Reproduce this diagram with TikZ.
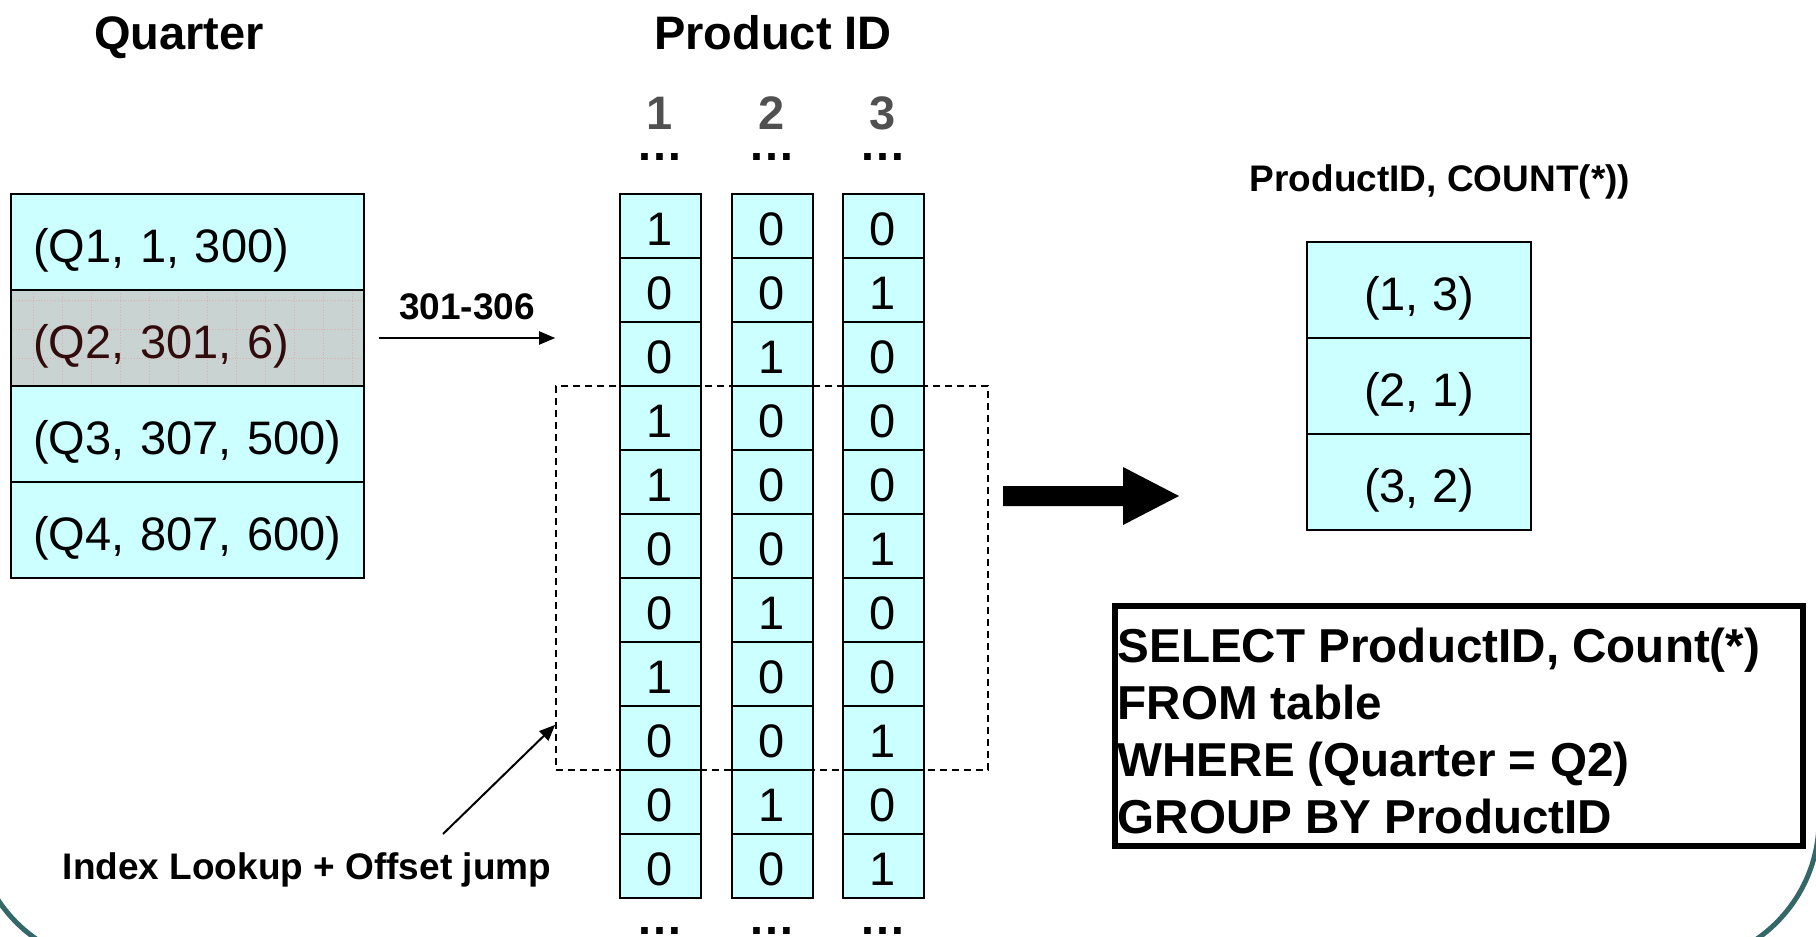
\documentclass[tikz,border=0pt]{standalone}
\usepackage{fontspec}
\setmainfont{Liberation Sans}
\usetikzlibrary{arrows.meta}
\definecolor{cellcyan}{RGB}{204,255,255}
\definecolor{hitgray}{RGB}{201,211,209}
\definecolor{hitink}{RGB}{50,12,12}
\definecolor{gridpink}{RGB}{235,150,150}
\definecolor{frameteal}{RGB}{52,104,104}
\definecolor{idgray}{RGB}{80,80,80}

\begin{document}
\begin{tikzpicture}[x=0.5pt,y=-0.5pt,
  big/.style={font=\fontsize{23.5}{28}\selectfont},
  bigbold/.style={font=\fontsize{23.5}{28}\selectfont\bfseries},
  smallbold/.style={font=\fontsize{18.5}{22}\selectfont\bfseries},
  rowbox/.style={draw=black, line width=1pt, fill=cellcyan, minimum width=176.5pt,
    minimum height=48pt, text width=154.5pt, inner xsep=11pt, inner ysep=0pt,
    text height=22pt, text depth=1.7pt, align=left, big},
  bitcell/.style={draw=black, line width=1pt, fill=cellcyan, minimum width=40.5pt,
    minimum height=32pt, inner sep=0pt, text height=19pt, text depth=0pt, big},
  rescell/.style={draw=black, line width=0.8pt, fill=cellcyan, minimum width=112pt,
    minimum height=48pt, inner sep=0pt, text height=22pt, text depth=1.7pt, big},
  thinarrow/.style={line width=1pt, -{Triangle[length=8pt,width=6.5pt]}},
  window/.style={draw=black, line width=0.8pt, dash pattern=on 3.5pt off 2.5pt,
    minimum width=216pt, minimum height=192pt, inner sep=0pt},
]
\useasboundingbox (0,0) rectangle (1816,937);

% slide frame, bottom corners only
\begin{scope}
  \clip (0,0) rectangle (1816,937);
  \draw[frameteal, line width=2.5pt]
    (-26,600) -- (-26,820) arc[start angle=180, end angle=270, radius=72.5pt]
    -- (1674,965) arc[start angle=270, end angle=360, radius=72.5pt] -- (1819,600);
\end{scope}

% headings
\node[bigbold, anchor=base] (hq) at (179,49) {Quarter};
\node[bigbold, anchor=base] (hp) at (773,49) {Product ID};

% quarter index table
\node[rowbox] (q1) at (187.5,242) {(Q1, 1, 300)};
\node[rowbox, fill=hitgray, text=hitink,
  path picture={\draw[gridpink, line width=0.4pt, densely dotted, opacity=0.6]
    ([xshift=-3pt]path picture bounding box.south west) grid[step=14.5pt]
    (path picture bounding box.north east);}] (q2) at (187.5,338) {(Q2, 301, 6)};
\node[rowbox] (q3) at (187.5,434) {(Q3, 307, 500)};
\node[rowbox] (q4) at (187.5,530) {(Q4, 807, 600)};

% scanned window over the bitmaps
\node[window] (win) at (772,578) {};

% bitmap columns
\foreach \c/\cx/\vals in {1/660/{1,0,0,1,1,0,0,1,0,0,0},
                          2/772/{0,0,1,0,0,0,1,0,0,1,0},
                          3/883/{0,1,0,0,0,1,0,0,1,0,1}} {
  \node[bigbold, text=idgray, anchor=base, inner sep=0pt] (n\c) at (\cx,129) {\c};
  \node[bigbold, anchor=base, inner sep=0pt] (top\c) at (\cx,160) {…};
  \node[bigbold, anchor=base, inner sep=0pt] (bot\c) at (\cx,934) {…};
  \foreach \v [count=\r] in \vals {
    \node[bitcell] (b\c-\r) at (\cx,162+64*\r) {\v};
  }
}

% range arrow into the bitmaps
\draw[thinarrow] ([xshift=7pt]q2.east) -- (win.west |- q2.east)
  node[smallbold, midway, above=5pt] (rng) {301-306};

% lookup note
\node[smallbold] (lk) at (307,870) {Index Lookup + Offset jump};
\coordinate (lkstart) at (443,834);
\draw[thinarrow] (lkstart) -- ([yshift=23pt]win.south west);

% result block arrow
\fill (1003,486) -- (1123,486) -- (1123,467) -- (1179,496) -- (1123,525)
  -- (1123,506) -- (1003,506) -- cycle;

% result table
\node[smallbold] (rh) at (1440,182) {ProductID, COUNT(*))};
\node[rescell] (r1) at (1419,290) {(1, 3)};
\node[rescell] (r2) at (1419,386) {(2, 1)};
\node[rescell] (r3) at (1419,482) {(3, 2)};

% query
\node[draw=black, line width=2.8pt, minimum width=344pt, minimum height=120pt,
  inner sep=0pt] (sqlbox) at (1459,726) {};
\node[anchor=west, align=left, inner sep=0pt,
  font=\fontsize{23.8}{28.6}\selectfont\bfseries] (sql) at ([xshift=2.5pt,yshift=-2.5pt]sqlbox.west)
  {SELECT ProductID, Count(*)\\FROM table\\WHERE (Quarter = Q2)\\GROUP BY ProductID};
\end{tikzpicture}
\end{document}
